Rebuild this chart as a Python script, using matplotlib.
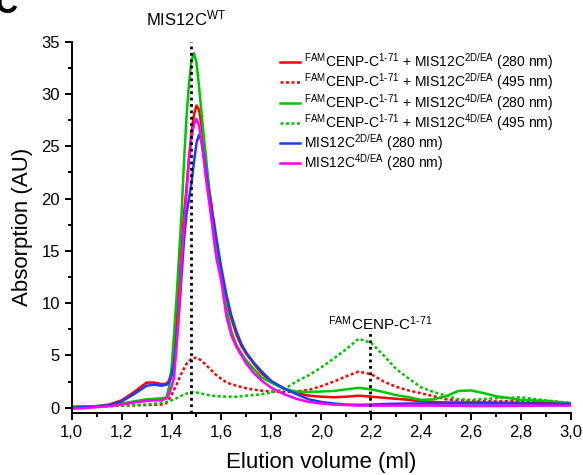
import numpy as np
import matplotlib
matplotlib.use("Agg")
import matplotlib.pyplot as plt
from matplotlib.lines import Line2D
from matplotlib.ticker import MultipleLocator, FuncFormatter

plt.rcParams['font.family'] = ['Liberation Sans', 'DejaVu Sans']
plt.rcParams['mathtext.fontset'] = 'custom'
plt.rcParams['mathtext.rm'] = 'Liberation Sans'
plt.rcParams['mathtext.it'] = 'Liberation Sans'

# elution volumes (ml) for the 280 nm traces
vol_280 = [1.0, 1.05, 1.1, 1.15, 1.2, 1.25, 1.3, 1.33, 1.36, 1.38,
           1.39, 1.40, 1.41, 1.42, 1.43, 1.44, 1.45, 1.46, 1.47, 1.48,
           1.49, 1.50, 1.51, 1.52, 1.53, 1.54, 1.55, 1.56, 1.57, 1.58,
           1.60, 1.62, 1.64, 1.66, 1.68, 1.70, 1.73, 1.76, 1.80, 1.85,
           1.90, 1.95, 2.00, 2.05, 2.10, 2.15, 2.20, 2.25, 2.30, 2.35,
           2.40, 2.45, 2.50, 2.55, 2.60, 2.65, 2.70, 2.80, 2.90, 3.00]

cenp_2d_280 = [0.05, 0.1, 0.15, 0.3, 0.7, 1.5, 2.4, 2.4, 2.25, 2.3,
               2.6, 3.5, 5.2, 8.0, 11.8, 15.5, 18.5, 21.0, 24.0, 26.3,
               28.0, 28.9, 28.5, 27.0, 25.3, 23.0, 21.0, 19.5, 17.3, 15.6,
               13.0, 10.3, 8.5, 7.0, 5.9, 5.15, 4.2, 3.3, 2.5, 1.85,
               1.4, 1.15, 1.05, 1.0, 1.05, 1.15, 1.05, 0.95, 0.85, 0.75,
               0.6, 0.55, 0.5, 0.5, 0.5, 0.5, 0.48, 0.45, 0.45, 0.42]

cenp_4d_280 = [0.1, 0.1, 0.15, 0.25, 0.4, 0.6, 0.8, 0.85, 0.9, 1.0,
               2.0, 3.7, 7.0, 10.5, 14.5, 18.5, 23.5, 27.8, 31.0, 33.2,
               33.9, 33.0, 30.8, 28.2, 25.8, 23.5, 21.0, 18.5, 16.8, 15.0,
               12.5, 9.5, 7.3, 6.0, 5.2, 4.5, 3.7, 2.9, 2.4, 1.8,
               1.55, 1.5, 1.55, 1.6, 1.75, 1.9, 1.75, 1.5, 1.2, 1.0,
               0.75, 0.8, 1.1, 1.6, 1.65, 1.4, 1.1, 0.74, 0.65, 0.42]

mis_2d_280 = [0.0, 0.05, 0.1, 0.25, 0.6, 1.3, 2.1, 2.2, 2.1, 2.2,
              2.4, 3.0, 4.3, 6.3, 9.0, 12.5, 16.0, 18.5, 20.0, 21.5,
              23.5, 25.3, 26.1, 25.5, 24.0, 22.3, 20.5, 19.0, 17.8, 16.2,
              13.3, 10.8, 8.8, 7.3, 6.1, 5.25, 4.3, 3.5, 2.55, 1.85,
              1.3, 0.8, 0.55, 0.4, 0.3, 0.27, 0.3, 0.35, 0.38, 0.4,
              0.4, 0.4, 0.4, 0.4, 0.4, 0.4, 0.4, 0.4, 0.38, 0.38]

mis_4d_280 = [-0.1, -0.05, 0.05, 0.15, 0.3, 0.5, 0.65, 0.7, 0.7, 0.9,
              1.3, 2.0, 2.9, 5.8, 9.2, 14.0, 17.5, 20.5, 23.7, 25.8,
              27.1, 27.6, 27.0, 25.5, 23.5, 21.5, 19.8, 18.0, 16.0, 14.3,
              12.0, 8.7, 6.9, 5.8, 5.0, 4.2, 3.3, 2.6, 1.9, 1.3,
              0.85, 0.55, 0.4, 0.3, 0.25, 0.2, 0.2, 0.2, 0.2, 0.2,
              0.2, 0.2, 0.18, 0.18, 0.16, 0.16, 0.16, 0.18, 0.2, 0.2]

# elution volumes (ml) for the 495 nm (FAM) traces
vol_495 = [1.0, 1.1, 1.2, 1.3, 1.36, 1.38, 1.40, 1.42, 1.44, 1.46,
           1.48, 1.50, 1.52, 1.55, 1.58, 1.62, 1.66, 1.70, 1.75, 1.80,
           1.85, 1.90, 1.95, 2.00, 2.05, 2.10, 2.15, 2.20, 2.25, 2.30,
           2.35, 2.40, 2.45, 2.50, 2.55, 2.60, 2.70, 2.80, 2.90, 3.00]

cenp_2d_495 = [0.05, 0.1, 0.2, 0.25, 0.3, 0.45, 1.2, 2.2, 3.3, 4.2,
               4.7, 4.8, 4.5, 3.8, 3.1, 2.4, 2.1, 1.85, 1.65, 1.55,
               1.5, 1.55, 1.7, 2.05, 2.5, 3.0, 3.45, 3.2, 2.5, 2.0,
               1.65, 1.38, 1.1, 0.8, 0.7, 0.65, 0.6, 0.65, 0.55, 0.42]

cenp_4d_495 = [0.1, 0.12, 0.2, 0.3, 0.45, 0.55, 0.7, 0.9, 1.15, 1.35,
               1.5, 1.45, 1.35, 1.2, 1.1, 1.05, 1.05, 1.15, 1.25, 1.45,
               1.75, 2.5, 3.1, 3.85, 4.7, 5.6, 6.6, 6.2, 5.0, 3.7,
               2.8, 1.95, 1.5, 1.15, 0.8, 0.75, 0.9, 1.0, 0.7, 0.45]

fam = '$^{\\mathrm{FAM}}$CENP-C$^{\\mathrm{1\u201071}}$'
labels = [fam + ' + MIS12C$^{\\mathrm{2D/EA}}$ (280 nm)',
          fam + ' + MIS12C$^{\\mathrm{2D/EA}}$ (495 nm)',
          fam + ' + MIS12C$^{\\mathrm{4D/EA}}$ (280 nm)',
          fam + ' + MIS12C$^{\\mathrm{4D/EA}}$ (495 nm)',
          'MIS12C$^{\\mathrm{2D/EA}}$ (280 nm)',
          'MIS12C$^{\\mathrm{4D/EA}}$ (280 nm)']

red = '#ff0000'
green = '#00c400'
blue = '#1a3cff'
magenta = '#ff00ff'
dots = (0, (1.2, 1.0))

fig = plt.figure(figsize=(5.83, 4.75), dpi=100)
ax = fig.add_axes([0.123, 0.1307, 0.856, 0.7815])

# same drawing order as the legend (last one on top)
h1, = ax.plot(vol_280, cenp_2d_280, color=red, lw=1.8)
h2, = ax.plot(vol_495, cenp_2d_495, color=red, lw=1.8, ls=dots)
h3, = ax.plot(vol_280, cenp_4d_280, color=green, lw=1.8)
h4, = ax.plot(vol_495, cenp_4d_495, color=green, lw=1.8, ls=dots)
h5, = ax.plot(vol_280, mis_2d_280, color=blue, lw=1.8)
h6, = ax.plot(vol_280, mis_4d_280, color=magenta, lw=1.8)

# peak markers
ax.plot([1.48, 1.48], [-0.5, 35], color='black', lw=2, ls=(0, (1, 1.3)), zorder=5)
ax.plot([2.195, 2.195], [-0.5, 7.1], color='black', lw=2, ls=(0, (1, 1.3)), zorder=5)
ax.text(1.458, 37.2, 'MIS12C$^{\\mathrm{WT}}$', ha='center', va='center',
        fontsize=12, clip_on=False)
ax.text(2.237, 8.0, fam, ha='center', va='center', fontsize=11)

ax.set_xlim(1.0, 3.0)
ax.set_ylim(-0.5, 35)
ax.xaxis.set_major_locator(MultipleLocator(0.2))
ax.xaxis.set_minor_locator(MultipleLocator(0.1))
ax.yaxis.set_major_locator(MultipleLocator(5))
ax.yaxis.set_minor_locator(MultipleLocator(2.5))
ax.xaxis.set_major_formatter(FuncFormatter(lambda v, p: ('%.1f' % v).replace('.', ',')))
for s in ['top', 'right']:
    ax.spines[s].set_visible(False)
for s in ['left', 'bottom']:
    ax.spines[s].set_linewidth(1.4)
ax.tick_params(which='major', direction='out', length=5, width=1.4, labelsize=12)
ax.tick_params(which='minor', direction='out', length=3, width=1.4)
ax.set_xlabel('Elution volume (ml)', fontsize=16, labelpad=9)
ax.set_ylabel('Absorption (AU)', fontsize=16, labelpad=6)

ax.legend([h1, h2, h3, h4, h5, h6], labels, loc='upper left',
          bbox_to_anchor=(0.418, 0.974), frameon=False, fontsize=10,
          handlelength=1.4, handletextpad=0.3, labelspacing=-0.05,
          borderpad=0, borderaxespad=0)

fig.text(-0.008, 1.022, 'C', fontsize=22, fontweight='bold', va='top')

fig.savefig('out.png', dpi=100)
